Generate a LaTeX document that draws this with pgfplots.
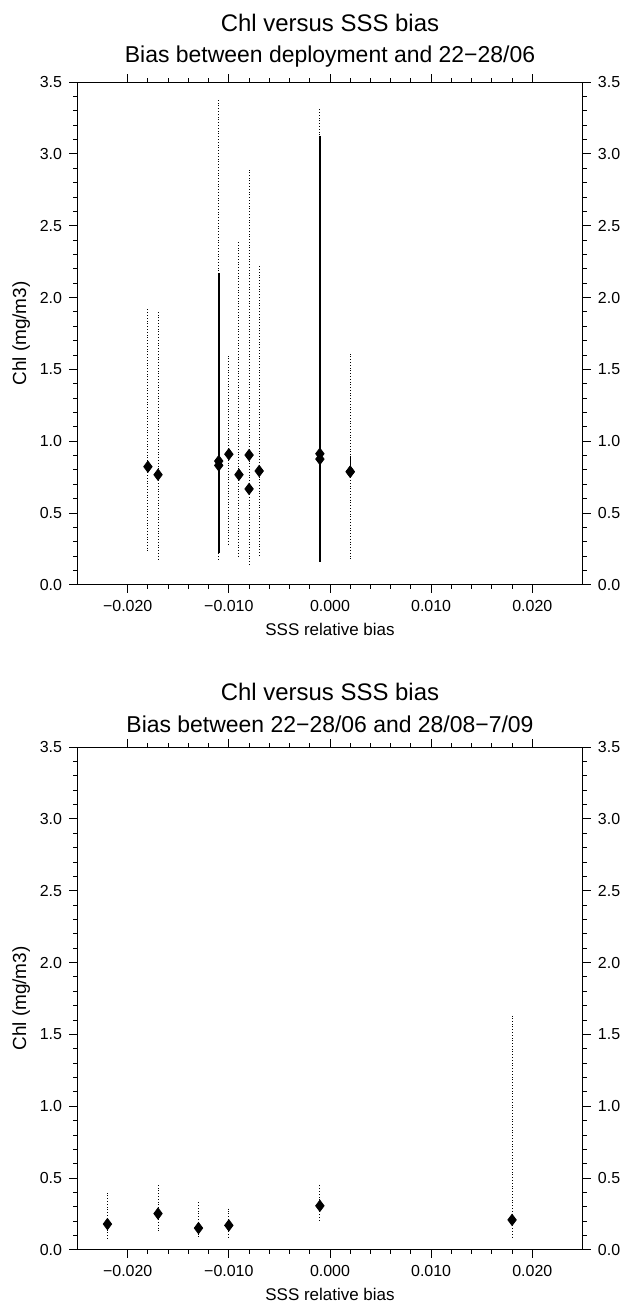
\documentclass[border=0pt]{standalone}
\usepackage{fontspec}
\setmainfont{Liberation Sans}
\usepackage{pgfplots}
\usepackage{pgfplotstable}
\pgfplotsset{compat=1.18}

% top panel, dotted ranges: x, value, down, up
\pgfplotstableread{
x       y      em     ep
-0.018  0.823  0.587  1.099
-0.017  0.767  0.584  1.136
-0.011  0.862  0.700  2.516
-0.010  0.910  0.623  0.687
-0.009  0.767  0.577  1.625
-0.008  0.904  0.760  1.987
-0.007  0.793  0.596  1.437
-0.001  0.913  0.751  2.407
 0.002  0.788  0.605  0.824
}\topdot

% top panel, solid ranges
\pgfplotstableread{
x       y      em     ep
-0.011  0.832  0.612  1.336
-0.008  0.668  0.000  0.000
-0.001  0.876  0.714  2.246
}\topsolid

% bottom panel
\pgfplotstableread{
x       y      em     ep
-0.022  0.180  0.114  0.218
-0.017  0.253  0.117  0.197
-0.013  0.152  0.072  0.193
-0.010  0.171  0.091  0.117
-0.001  0.307  0.115  0.143
 0.018  0.209  0.134  1.420
}\botdot

\pgfplotsset{
  panel/.style={
    scale only axis, width=252.5bp, height=251bp,
    xmin=-0.025, xmax=0.025, ymin=0, ymax=3.5,
    scaled x ticks=false,
    xtick={-0.02,-0.01,0,0.01,0.02},
    xticklabels={−0.020,−0.010,0.000,0.010,0.020},
    ytick={0,0.5,1,1.5,2,2.5,3,3.5},
    yticklabels={0.0,0.5,1.0,1.5,2.0,2.5,3.0,3.5},
    minor x tick num=4, minor y tick num=4,
    tick align=outside,
    major tick length=4bp, minor tick length=2bp,
    axis line style={line width=0.5bp},
    every tick/.style={black, line width=0.5bp},
    tick label style={font=\fontsize{8}{9}\selectfont},
    xlabel style={font=\fontsize{8.5}{10}\selectfont, yshift=1bp},
    ylabel style={font=\fontsize{9.5}{11}\selectfont, yshift=-2bp},
  },
  leftaxis/.style={
    panel, xtick pos=both, ytick pos=both,
    xlabel={SSS relative bias}, ylabel={Chl (mg/m3)},
    title style={align=center, inner sep=1bp},
  },
  rightaxis/.style={
    panel, axis y line*=right, axis x line=none,
  },
  bars/.style={
    only marks, mark=diamond*, mark size=2.8bp, black,
    error bars/.cd, y dir=both, y explicit, error mark=none,
    error bar style={#1},
  },
}

\begin{document}
\begin{tikzpicture}
% top panel
\begin{axis}[leftaxis, at={(0,0)},
  title={\fontsize{12}{12}\selectfont Chl versus SSS bias\\[4bp]
         \fontsize{11.5}{12}\selectfont Bias between deployment and 22−28/06}]
  \addplot[bars={solid, line width=0.5bp}]
    coordinates {(0.002,0.788) += (0,0.112) -= (0,0)};
  \addplot[bars={densely dotted, line width=0.5bp}]
    table[x=x, y=y, y error minus=em, y error plus=ep] {\topdot};
  \addplot[bars={solid, line width=1bp}]
    table[x=x, y=y, y error minus=em, y error plus=ep] {\topsolid};
\end{axis}
\begin{axis}[rightaxis, at={(0,0)}]
\end{axis}

% bottom panel
\begin{axis}[leftaxis, at={(0,-332bp)},
  title={\fontsize{12}{12}\selectfont Chl versus SSS bias\\[4bp]
         \fontsize{11.5}{12}\selectfont Bias between 22−28/06 and 28/08−7/09}]
  \addplot[bars={densely dotted, line width=0.5bp}]
    table[x=x, y=y, y error minus=em, y error plus=ep] {\botdot};
\end{axis}
\begin{axis}[rightaxis, at={(0,-332bp)}]
\end{axis}
\pgfresetboundingbox
\path (-38.5bp,-358bp) rectangle (274bp,292bp);
\end{tikzpicture}
\end{document}
